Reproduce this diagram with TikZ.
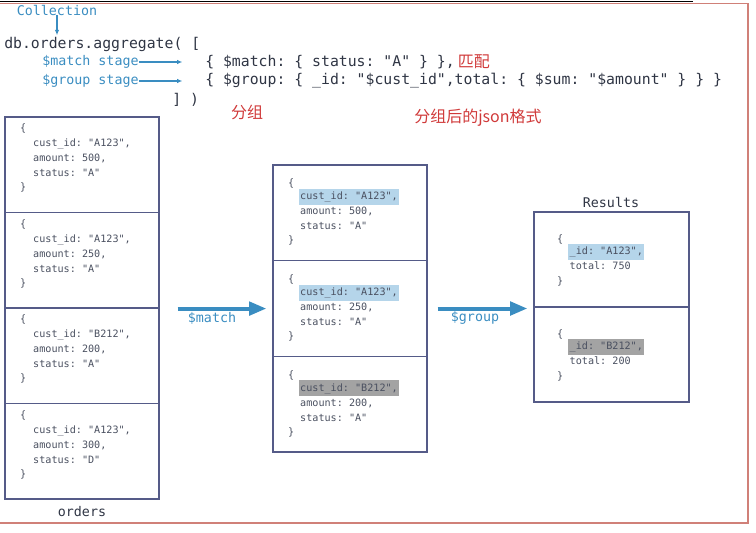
\documentclass[tikz,border=0pt]{standalone}
\usepackage{fontspec}
\setmonofont{DejaVu Sans Mono}
\newfontfamily\cjk{Noto Sans CJK SC}
\usetikzlibrary{arrows.meta,positioning}
\definecolor{tagblue}{HTML}{3A8DC1}
\definecolor{boxline}{HTML}{555B88}
\definecolor{codegray}{HTML}{2F3544}
\definecolor{docgray}{HTML}{4A5060}
\definecolor{hlblue}{HTML}{B5D5EA}
\definecolor{hlgray}{HTML}{A3A3A3}
\definecolor{notered}{HTML}{D03A3A}
\definecolor{framered}{HTML}{D08078}
\tikzset{
  code/.style={font=\ttfamily\fontsize{11.1}{13}\selectfont, text=codegray, anchor=west, inner sep=0pt},
  tag/.style={font=\ttfamily\fontsize{10}{12}\selectfont, text=tagblue, inner sep=0pt},
  title/.style={font=\ttfamily\fontsize{10}{12}\selectfont, text=codegray, inner sep=0pt},
  doc/.style={font=\ttfamily\fontsize{7.6}{9}\selectfont, text=docgray, anchor=west,
    inner xsep=1.1pt, inner ysep=2pt, text height=6pt, text depth=2pt},
  docbox/.style={draw=boxline, line width=0.9pt, minimum width=115.5pt, inner sep=0pt},
  note/.style={font=\cjk\fontsize{12}{14}\selectfont, text=notered, inner sep=0pt},
  flow/.style={-{Triangle[length=13pt,width=10pt]}, line width=3pt, draw=tagblue},
  stage/.style={-{Latex[length=4pt,width=3.5pt]}, draw=tagblue, line width=0.8pt}
}
\begin{document}
\begin{tikzpicture}[x=0.75pt, y=-0.75pt]
\useasboundingbox (0,0) rectangle (756,532);
% frame
\draw[framered, line width=0.9pt] (0,3.5) -- (748,3.5) -- (748,523) -- (0,523);
\draw[black, line width=0.9pt] (0,1.2) -- (693,1.2);

% aggregate call
\node[tag] (coll) at (57,10) {Collection};
\node[code] (db) at (4,44) {db.orders.aggregate( [};
\draw[stage, shorten >=1pt] (coll.south) -- (coll.south |- db.north);
\node[tag, anchor=west] (mstage) at (42,62) {\$match stage};
\node[tag, anchor=west] (gstage) at (42,81) {\$group stage};
\node[code] (mcode) at (205,62) {\{ \$match: \{ status: "A" \} \},};
\node[code] (gcode) at (205,81) {\{ \$group: \{ \_id: "\$cust\_id",total: \{ \$sum: "\$amount" \} \} \}};
\node[code] (close) at (172,100) {] )};
\draw[stage, shorten >=17pt] (mstage.east) -- (mstage.east -| mcode.west);
\draw[stage, shorten >=17pt] (gstage.east) -- (gstage.east -| gcode.west);
\node[note, right=2pt of mcode] (match) {匹配};
\node[note] (group) at (247,112) {分组};
\node[note] (jsonfmt) at (478,118) {分组后的json格式};

% orders
\foreach \i/\cid/\amt/\st in {1/A123/500/A,2/A123/250/A,3/B212/200/A,4/A123/300/D}{
  \pgfmathsetmacro{\ytop}{117+95.5*(\i-1)}
  \node[docbox, minimum height=71.6pt] (o\i) at (82,\ytop+47.75) {};
  \node[doc] at (18.5,\ytop+12) {\{};
  \node[doc] at (31.5,\ytop+27) {cust\_id: "\cid",};
  \node[doc] at (31.5,\ytop+42) {amount: \amt,};
  \node[doc] at (31.5,\ytop+57) {status: "\st"};
  \node[doc] at (18.5,\ytop+71) {\}};
}
\node[title] (orders) at (82,512) {orders};

% after $match
\foreach \i/\cid/\amt/\hl in {1/A123/500/hlblue,2/A123/250/hlblue,3/B212/200/hlgray}{
  \pgfmathsetmacro{\ytop}{165+95.67*(\i-1)}
  \node[docbox, minimum height=71.75pt] (m\i) at (350,\ytop+47.83) {};
  \node[doc] at (286.5,\ytop+19) {\{};
  \node[doc, fill=\hl] at (298.5,\ytop+32) {cust\_id: "\cid",};
  \node[doc] at (298.5,\ytop+47) {amount: \amt,};
  \node[doc] at (298.5,\ytop+62) {status: "A"};
  \node[doc] at (286.5,\ytop+76) {\}};
}

% results
\foreach \i/\cid/\tot/\hl in {1/A123/750/hlblue,2/B212/200/hlgray}{
  \pgfmathsetmacro{\ytop}{212+95*(\i-1)}
  \node[docbox, minimum width=116.25pt, minimum height=71.25pt] (r\i) at (611.5,\ytop+47.5) {};
  \node[doc] at (555.5,\ytop+28) {\{};
  \node[doc, fill=\hl] at (568,\ytop+40) {\_id: "\cid",};
  \node[doc] at (568,\ytop+55) {total: \tot};
  \node[doc] at (555.5,\ytop+70) {\}};
}
\node[title] (results) at (611,202) {Results};

% stages
\draw[flow, shorten <=13.5pt, shorten >=4.5pt] (o2.south east) -- (o2.south east -| m2.west);
\node[tag] (matchlab) at (212,318) {\$match};
\draw[flow, shorten <=7.5pt, shorten >=4.5pt] (m2.east) -- (m2.east -| r1.west);
\node[tag] (grouplab) at (475,318) {\$group};
\end{tikzpicture}
\end{document}
